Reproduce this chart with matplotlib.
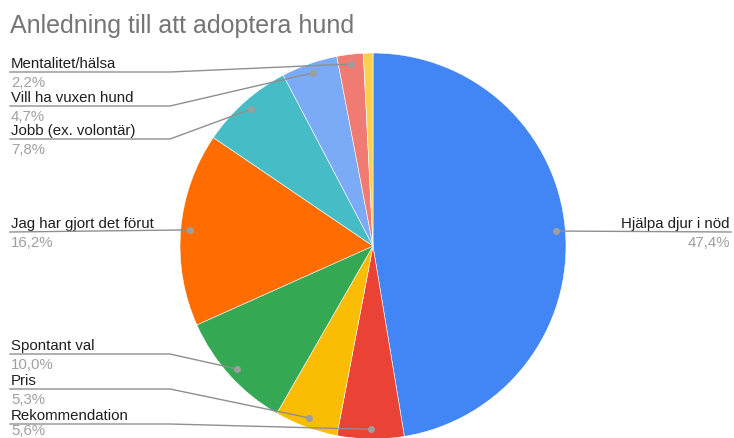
import numpy as np
import matplotlib.pyplot as plt

plt.rcParams['font.family'] = ['Liberation Sans', 'DejaVu Sans']

W, H = 734, 439

categories = ["Hjälpa djur i nöd", "Rekommendation", "Pris", "Spontant val",
              "Jag har gjort det förut", "Jobb (ex. volontär)", "Vill ha vuxen hund",
              "Mentalitet/hälsa", "Övrigt"]
values = [47.4, 5.6, 5.3, 10.0, 16.2, 7.8, 4.7, 2.2, 0.8]
pct_labels = ["47,4%", "5,6%", "5,3%", "10,0%", "16,2%", "7,8%", "4,7%", "2,2%", ""]
colors = ["#4285F4", "#EA4335", "#FBBC04", "#34A853", "#FF6D01",
          "#46BDC6", "#7BAAF7", "#F07B72", "#FCD04F"]

# underline row of each label, pixels from the top (the smallest slice has no label)
label_rows = {"Hjälpa djur i nöd": 233, "Rekommendation": 425, "Pris": 390,
              "Spontant val": 355, "Jag har gjort det förut": 233,
              "Jobb (ex. volontär)": 140, "Vill ha vuxen hund": 107,
              "Mentalitet/hälsa": 73}

fig = plt.figure(figsize=(W / 100, H / 100), dpi=100)
ax = fig.add_axes([0, 0, 1, 1])

cx, cy, r = 373, H - 247, 193
wedges, _ = ax.pie(values, colors=colors, startangle=90, counterclock=False,
                   center=(cx, cy), radius=r,
                   wedgeprops=dict(edgecolor='white', linewidth=0.4))
ax.set_xlim(0, W)
ax.set_ylim(0, H)
ax.set_aspect('equal')
ax.axis('off')

line_col = '#8f8f8f'
fs = 10.8
for w, name, pct in zip(wedges, categories, pct_labels):
    if name not in label_rows:
        continue
    mid = np.deg2rad((w.theta1 + w.theta2) / 2)
    dx = cx + 0.95 * r * np.cos(mid)
    dy = cy + 0.95 * r * np.sin(mid)
    uy = H - label_rows[name]
    py = max(uy - 14, 4)  # keep the lowest percentage inside the picture
    ax.plot(dx, dy, 'o', color='#9e9e9e', ms=4, zorder=5)
    if dx > cx:
        ax.plot([dx, 731], [dy, uy], color=line_col, lw=1, zorder=4)
        ax.text(730, uy + 5, name, ha='right', va='baseline', fontsize=fs, color='#1f1f1f')
        ax.text(730, py, pct, ha='right', va='baseline', fontsize=fs, color='#a0a0a0')
    else:
        if abs(dy - uy) < 4:
            ax.plot([10, dx], [uy, dy], color=line_col, lw=1, zorder=4)
        else:
            ax.plot([10, 170, dx], [uy, uy, dy], color=line_col, lw=1, zorder=4)
        ax.text(11, uy + 5, name, ha='left', va='baseline', fontsize=fs, color='#1f1f1f')
        ax.text(11, py, pct, ha='left', va='baseline', fontsize=fs, color='#a0a0a0')

fig.text(10 / W, (H - 33) / H, "Anledning till att adoptera hund",
         fontsize=18, color='#757575', ha='left', va='baseline')

fig.savefig('out.png', dpi=100)
